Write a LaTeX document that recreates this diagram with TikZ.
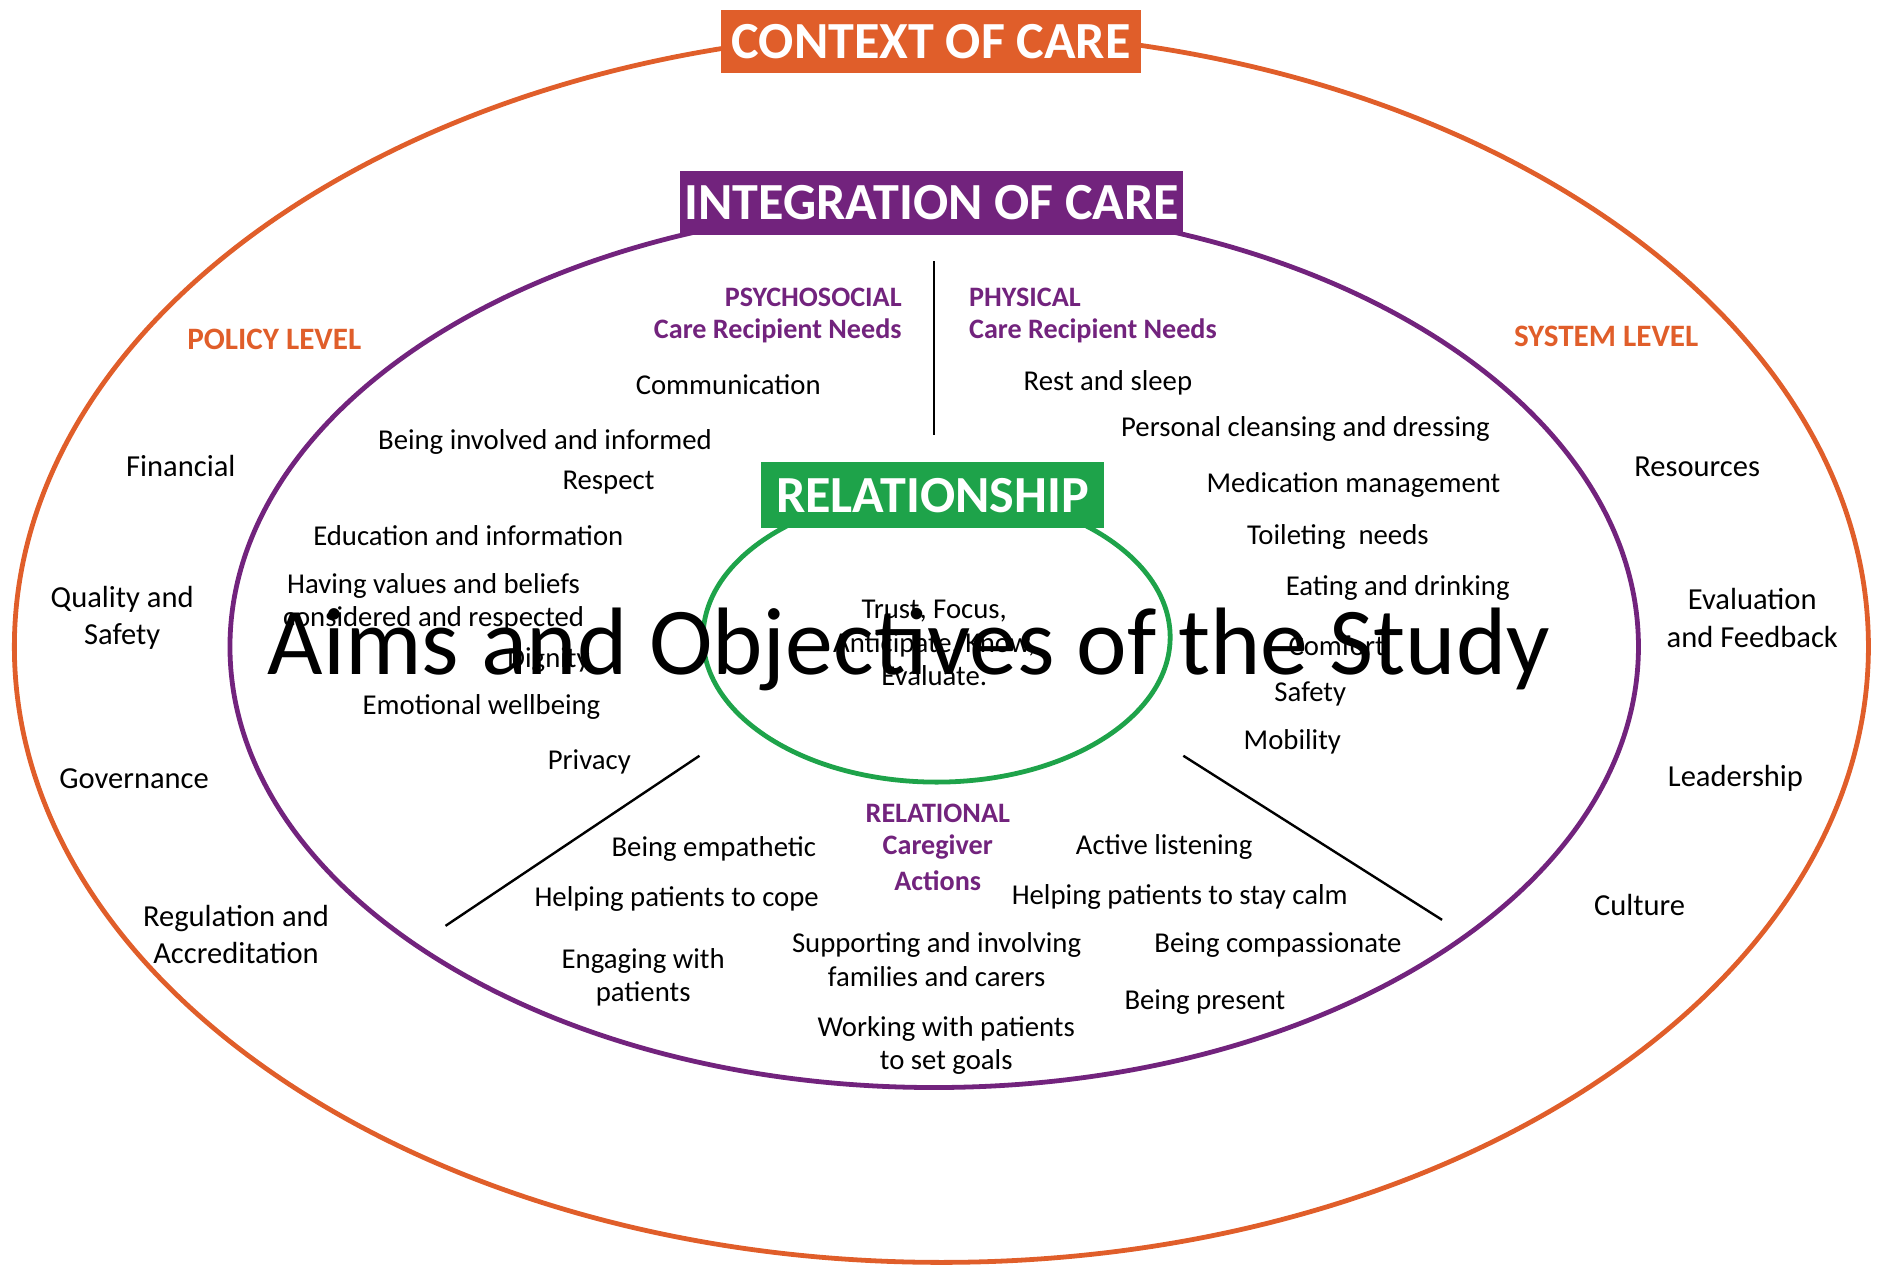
\documentclass[tikz,border=0pt]{standalone}
\usepackage{fontspec}
\setmainfont{Carlito}
\definecolor{ctxorange}{RGB}{224,94,42}
\definecolor{intpurple}{RGB}{114,35,125}
\definecolor{relgreen}{RGB}{30,163,74}
\begin{document}
\begin{tikzpicture}[x=1pt,y=-1pt,
  item/.style={font=\fontsize{24}{28}\selectfont, align=center, inner sep=0pt, text=black},
  outerlbl/.style={font=\fontsize{25.5}{31}\selectfont, align=center, inner sep=0pt, text=black},
  head/.style={font=\bfseries\fontsize{23.5}{28}\selectfont, text=intpurple, inner sep=0pt, align=center},
  levellbl/.style={font=\bfseries\fontsize{26}{28}\selectfont, text=ctxorange, inner sep=0pt},
  titlebox/.style={font=\bfseries\fontsize{43.5}{50}\selectfont, text=white, inner sep=0pt},
  divider/.style={draw=black, line width=2pt},
]
\useasboundingbox (0,0) rectangle (1568,1060);

% ellipses
\draw[ctxorange, line width=4pt] (786,540) ellipse [x radius=774pt, y radius=514pt];
\draw[intpurple, line width=4pt] (780,540) ellipse [x radius=588pt, y radius=368pt];
\draw[relgreen, line width=4pt] (782,532) ellipse [x radius=195pt, y radius=121pt];

% dividers
\coordinate (v1) at (780,218);
\coordinate (v2) at (780,363);
\coordinate (l1) at (584,631);
\coordinate (l2) at (372,773);
\coordinate (r1) at (988,631);
\coordinate (r2) at (1204,768);
\draw[divider] (v1) -- (v2);
\draw[divider] (l1) -- (l2);
\draw[divider] (r1) -- (r2);

% title boxes
\node[titlebox, fill=ctxorange, minimum width=351pt, minimum height=53pt] (context) at (777.5,34.5) {CONTEXT OF CARE};
\node[titlebox, fill=intpurple, minimum width=420pt, minimum height=53pt] (integration) at (778,169.5) {INTEGRATION OF CARE};
\node[titlebox, fill=relgreen, minimum width=287pt, minimum height=55pt] (relationship) at (778.5,413.5) {RELATIONSHIP};

% level labels
\node[levellbl] (policy) at (229,283) {POLICY LEVEL};
\node[levellbl] (system) at (1341,281) {SYSTEM LEVEL};

% policy level items
\node[outerlbl] (financial) at (151,389) {Financial};
\node[outerlbl] (quality) at (102,516) {Quality and\\Safety};
\node[outerlbl] (governance) at (112,650) {Governance};
\node[outerlbl] (regulation) at (197,780) {Regulation and\\Accreditation};

% system level items
\node[outerlbl] (resources) at (1417,390) {Resources};
\node[outerlbl] (evaluation) at (1463,516) {Evaluation\\and Feedback};
\node[outerlbl] (leadership) at (1449,650) {Leadership};
\node[outerlbl] (culture) at (1369,756) {Culture};

% headings
\node[head, anchor=east] (psy1) at (753,248) {PSYCHOSOCIAL};
\node[head, anchor=east] (psy2) at (753,276) {Care Recipient Needs};
\node[head, anchor=west] (phy1) at (809,248) {PHYSICAL};
\node[head, anchor=west] (phy2) at (809,276) {Care Recipient Needs};
\node[head] (rel1) at (783,679) {RELATIONAL};
\node[head] (rel2) at (783,707) {Caregiver};
\node[head] (rel3) at (783,735) {Actions};

% psychosocial items
\node[item] (communication) at (608,321) {Communication};
\node[item] (involved) at (455,369) {Being involved and informed};
\node[item] (respect) at (508,403) {Respect};
\node[item] (education) at (391,447) {Education and information};
\node[item] (values) at (362,503) {Having values and beliefs\\considered and respected};
\node[item] (dignity) at (458,551) {Dignity};
\node[item] (emotional) at (402,590) {Emotional wellbeing};
\node[item] (privacy) at (492,636) {Privacy};

% relationship items
\node[item] (trust) at (780,537) {Trust, Focus,\\Anticipate, Know,\\Evaluate.};

% physical items
\node[item] (rest) at (925,320) {Rest and sleep};
\node[item] (personal) at (1090,358) {Personal cleansing and dressing};
\node[item] (medication) at (1130,405) {Medication management};
\node[item] (toileting) at (1117,448) {Toileting \ needs};
\node[item] (eating) at (1167,491) {Eating and drinking};
\node[item] (comfort) at (1116,539) {Comfort};
\node[item] (safety) at (1094,579) {Safety};
\node[item] (mobility) at (1079,619) {Mobility};

% relational items
\node[item] (empathetic) at (596,709) {Being empathetic};
\node[item] (cope) at (565,751) {Helping patients to cope};
\node[item] (engaging) at (537,816) {Engaging with\\patients};
\node[item] (supporting) at (782,801) {Supporting and involving\\families and carers};
\node[item] (goals) at (790,873) {Working with patients\\to set goals};
\node[item] (listening) at (972,707) {Active listening};
\node[item] (calm) at (985,749) {Helping patients to stay calm};
\node[item] (compassionate) at (1067,789) {Being compassionate};
\node[item] (present) at (1006,837) {Being present};

% overlay title
\node[font=\fontsize{80}{90}\selectfont, inner sep=0pt, anchor=base] (aims) at (759,563) {Aims and Objectives of the Study};
\end{tikzpicture}
\end{document}
